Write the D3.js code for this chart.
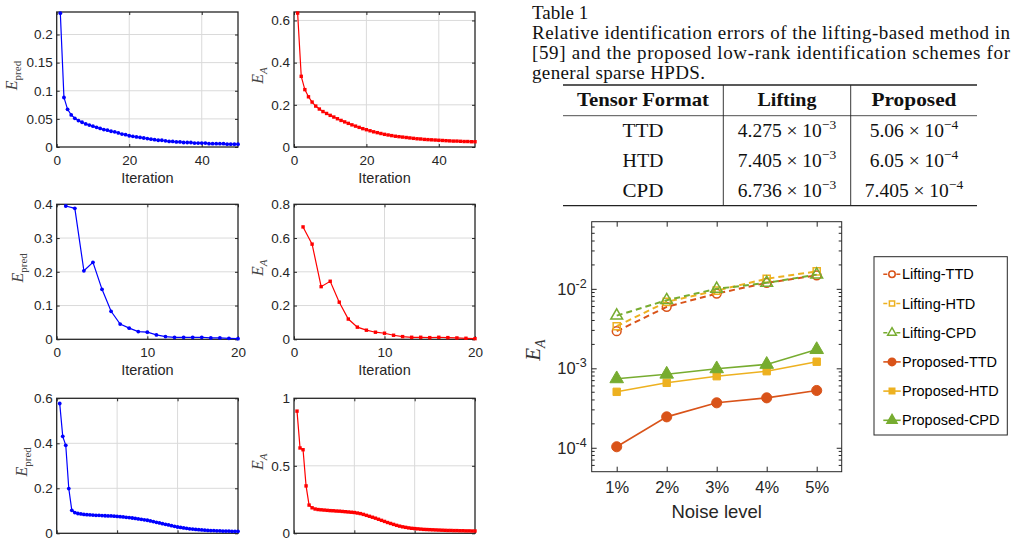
<!DOCTYPE html>
<html>
<head>
<meta charset="utf-8">
<script src="https://cdn.jsdelivr.net/npm/d3@7"></script>
<style>
  body { margin: 0; background: #fff; }
  svg text { font-family: "Liberation Sans", Arial, sans-serif; }
  .serif { font-family: "Liberation Serif", "Times New Roman", serif !important; }
</style>
</head>
<body>
<div id="fig"></div>
<script>
// ---------------- data ----------------
// convergence curves (value per iteration, iteration = index + 1)
var predTop = [0.238, 0.088, 0.067, 0.057, 0.051, 0.047, 0.044, 0.041, 0.039, 0.037,
               0.035, 0.033, 0.031, 0.030, 0.028, 0.027, 0.025, 0.023, 0.022, 0.020,
               0.019, 0.018, 0.017, 0.016, 0.015, 0.014, 0.013, 0.012, 0.012, 0.011,
               0.010, 0.010, 0.009, 0.009, 0.008, 0.008, 0.008, 0.007, 0.007, 0.007,
               0.007, 0.006, 0.006, 0.006, 0.006, 0.006, 0.005, 0.005, 0.005, 0.005];
var errTop = [0.635, 0.335, 0.272, 0.238, 0.213, 0.194, 0.180, 0.168, 0.159, 0.150,
              0.142, 0.134, 0.126, 0.119, 0.112, 0.105, 0.099, 0.093, 0.087, 0.082,
              0.077, 0.072, 0.068, 0.064, 0.060, 0.057, 0.054, 0.051, 0.049, 0.047,
              0.045, 0.043, 0.041, 0.039, 0.038, 0.036, 0.035, 0.034, 0.033, 0.032,
              0.031, 0.030, 0.029, 0.028, 0.028, 0.027, 0.026, 0.026, 0.025, 0.025];
var predMid = [0.395, 0.388, 0.203, 0.228, 0.148, 0.083, 0.045, 0.033, 0.023, 0.021,
               0.013, 0.008, 0.006, 0.006, 0.006, 0.006, 0.004, 0.004, 0.003, 0.002];
var errMid = [0.666, 0.564, 0.312, 0.344, 0.220, 0.120, 0.072, 0.054, 0.042, 0.036,
              0.024, 0.016, 0.012, 0.012, 0.010, 0.012, 0.010, 0.008, 0.006, 0.004];
var predBot = [0.577, 0.431, 0.391, 0.199, 0.102, 0.092, 0.088, 0.086, 0.084, 0.083,
               0.082, 0.081, 0.080, 0.080, 0.079, 0.078, 0.077, 0.077, 0.076, 0.075,
               0.074, 0.073, 0.071, 0.070, 0.068, 0.066, 0.064, 0.062, 0.060, 0.058,
               0.055, 0.052, 0.049, 0.046, 0.043, 0.040, 0.037, 0.034, 0.031, 0.028,
               0.026, 0.024, 0.022, 0.020, 0.019, 0.017, 0.016, 0.015, 0.014, 0.013,
               0.012, 0.012, 0.011, 0.011, 0.010, 0.010, 0.010, 0.009, 0.009, 0.009];
var errBot = [0.905, 0.632, 0.619, 0.351, 0.209, 0.189, 0.180, 0.176, 0.174, 0.172,
              0.170, 0.168, 0.167, 0.165, 0.164, 0.162, 0.160, 0.158, 0.156, 0.154,
              0.150, 0.146, 0.140, 0.133, 0.126, 0.119, 0.112, 0.104, 0.096, 0.088,
              0.080, 0.073, 0.066, 0.059, 0.053, 0.048, 0.044, 0.040, 0.037, 0.035,
              0.033, 0.031, 0.029, 0.028, 0.027, 0.026, 0.025, 0.024, 0.023, 0.022,
              0.021, 0.021, 0.020, 0.020, 0.019, 0.019, 0.018, 0.018, 0.017, 0.017];

// noise study
var noiseLevels = [1, 2, 3, 4, 5];
var liftTTD = [2.93e-3, 5.94e-3, 8.73e-3, 1.19e-2, 1.48e-2];
var liftHTD = [3.39e-3, 6.86e-3, 9.50e-3, 1.34e-2, 1.66e-2];
var liftCPD = [4.60e-3, 7.20e-3, 1.00e-2, 1.19e-2, 1.51e-2];
var propTTD = [1.03e-4, 2.45e-4, 3.68e-4, 4.25e-4, 5.26e-4];
var propHTD = [5.06e-4, 6.57e-4, 7.96e-4, 9.20e-4, 1.21e-3];
var propCPD = [7.38e-4, 8.43e-4, 9.86e-4, 1.12e-3, 1.72e-3];

// table
var captionLines = ["Table 1",
  "Relative identification errors of the lifting-based method in",
  "[59] and the proposed low-rank identification schemes for",
  "general sparse HPDS."];
var tableHeader = ["Tensor Format", "Lifting", "Proposed"];
var formats = ["TTD", "HTD", "CPD"];
var liftMant = ["4.275", "7.405", "6.736"];
var liftExp = ["\u22123", "\u22123", "\u22123"];
var propMant = ["5.06", "6.05", "7.405"];
var propExp = ["\u22124", "\u22124", "\u22124"];

// ---------------- svg ----------------
var W = 1016, H = 540;
var svg = d3.select("#fig").append("svg")
    .attr("width", W).attr("height", H);

var ink = "#262626";

// small convergence panels (bottom row: x labels fall below the picture)
var panels = [
  {data: predTop, left: 56.7, right: 238, top: 12, bottom: 147, xMax: 50, xTicks: [0, 20, 40],
   yMax: 0.24, yTicks: [0, 0.05, 0.1, 0.15, 0.2], sub: "pred", labX: 12, color: "#0000ff", mk: "dot", xlab: true},
  {data: errTop, left: 294, right: 475, top: 12, bottom: 147, xMax: 50, xTicks: [0, 20, 40],
   yMax: 0.64, yTicks: [0, 0.2, 0.4, 0.6], sub: "A", labX: 258, color: "#ff0000", mk: "sq", xlab: true},
  {data: predMid, left: 56.7, right: 238, top: 204.3, bottom: 339.3, xMax: 20, xTicks: [0, 10, 20],
   yMax: 0.4, yTicks: [0, 0.1, 0.2, 0.3, 0.4], sub: "pred", labX: 18, color: "#0000ff", mk: "dot", xlab: true},
  {data: errMid, left: 294, right: 475, top: 204.3, bottom: 339.3, xMax: 20, xTicks: [0, 10, 20],
   yMax: 0.8, yTicks: [0, 0.2, 0.4, 0.6, 0.8], sub: "A", labX: 258, color: "#ff0000", mk: "sq", xlab: true},
  {data: predBot, left: 56.7, right: 238, top: 398.3, bottom: 533.3, xMax: 60, xTicks: [0, 20, 40, 60],
   yMax: 0.6, yTicks: [0, 0.2, 0.4, 0.6], sub: "pred", labX: 22, color: "#0000ff", mk: "dot", xlab: false},
  {data: errBot, left: 294, right: 475, top: 398.3, bottom: 533.3, xMax: 60, xTicks: [0, 20, 40, 60],
   yMax: 1, yTicks: [0, 0.5, 1], sub: "A", labX: 258, color: "#ff0000", mk: "sq", xlab: false}
];

var fmt = function(d){ return String(+d.toFixed(3)); };

panels.forEach(function(p){
  var x = d3.scaleLinear().domain([0, p.xMax]).range([p.left, p.right]);
  var y = d3.scaleLinear().domain([0, p.yMax]).range([p.bottom, p.top]);
  var g = svg.append("g");

  // grid
  g.selectAll(".gx").data(p.xTicks.filter(function(d){ return d > 0 && d < p.xMax; }))
    .enter().append("line")
      .attr("x1", function(d){ return x(d); }).attr("x2", function(d){ return x(d); })
      .attr("y1", p.top).attr("y2", p.bottom)
      .attr("stroke", "#dadada").attr("stroke-width", 1);
  g.selectAll(".gy").data(p.yTicks.filter(function(d){ return d > 0 && d < p.yMax; }))
    .enter().append("line")
      .attr("x1", p.left).attr("x2", p.right)
      .attr("y1", function(d){ return y(d); }).attr("y2", function(d){ return y(d); })
      .attr("stroke", "#dadada").attr("stroke-width", 1);

  // axes (ticks inward, MATLAB style)
  var ax = g.append("g").attr("transform", "translate(0," + p.bottom + ")")
    .call(d3.axisBottom(x).tickValues(p.xTicks).tickFormat(p.xlab ? fmt : "").tickSize(-3).tickPadding(8));
  var ay = g.append("g").attr("transform", "translate(" + p.left + ",0)")
    .call(d3.axisLeft(y).tickValues(p.yTicks).tickFormat(fmt).tickSize(-3).tickPadding(4));
  var at = g.append("g").attr("transform", "translate(0," + p.top + ")")
    .call(d3.axisTop(x).tickValues(p.xTicks).tickFormat("").tickSize(-3));
  var ar = g.append("g").attr("transform", "translate(" + p.right + ",0)")
    .call(d3.axisRight(y).tickValues(p.yTicks).tickFormat("").tickSize(-3));
  [ax, ay, at, ar].forEach(function(a){
    a.select(".domain").remove();
    a.selectAll("line").attr("stroke", ink);
    a.selectAll("text").attr("fill", ink).style("font-size", "13.5px");
  });

  g.append("rect")
    .attr("x", p.left).attr("y", p.top)
    .attr("width", p.right - p.left).attr("height", p.bottom - p.top)
    .attr("fill", "none").attr("stroke", ink).attr("stroke-width", 1.3);

  // curve
  var line = d3.line().x(function(d, i){ return x(i + 1); }).y(function(d){ return y(d); });
  g.append("path").datum(p.data)
    .attr("d", line).attr("fill", "none")
    .attr("stroke", p.color).attr("stroke-width", 1.2);
  if (p.mk === "dot") {
    g.selectAll(".m").data(p.data).enter().append("circle")
      .attr("cx", function(d, i){ return x(i + 1); })
      .attr("cy", function(d){ return y(d); })
      .attr("r", 1.9).attr("fill", p.color);
  } else {
    g.selectAll(".m").data(p.data).enter().append("rect")
      .attr("x", function(d, i){ return x(i + 1) - 1.7; })
      .attr("y", function(d){ return y(d) - 1.7; })
      .attr("width", 3.4).attr("height", 3.4).attr("fill", p.color);
  }

  // labels
  if (p.xlab) {
    g.append("text")
      .attr("x", (p.left + p.right) / 2).attr("y", p.bottom + 36)
      .attr("text-anchor", "middle").attr("fill", ink)
      .style("font-size", "14.5px").text("Iteration");
  }

  var yl = g.append("text").attr("class", "serif")
    .attr("transform", "translate(" + (p.labX + 5) + "," + ((p.top + p.bottom) / 2 - 4) + ") rotate(-90)")
    .attr("text-anchor", "middle").attr("fill", "#444");
  yl.append("tspan").style("font-size", "16px").style("font-style", "italic").text("E");
  yl.append("tspan").attr("dy", 4)
    .style("font-size", "11px")
    .style("font-style", p.sub === "A" ? "italic" : "normal")
    .text(p.sub);
});

// ---------------- table ----------------
var tb = svg.append("g");
tb.selectAll(".cap").data(captionLines).enter().append("text")
  .attr("class", "serif")
  .attr("x", 532)
  .attr("y", function(d, i){ return 19 + i * 20; })
  .attr("textLength", function(d, i){ return i === 0 ? null : (i === 3 ? 173 : 478); })
  .attr("lengthAdjust", "spacing")
  .attr("fill", "#111")
  .style("font-size", "19px")
  .text(function(d){ return d; });

var colX = [643, 787, 914];
var ruleL = 563, ruleR = 977;
tb.append("line").attr("x1", ruleL).attr("x2", ruleR).attr("y1", 85).attr("y2", 85)
  .attr("stroke", "#222").attr("stroke-width", 1.3);
tb.append("line").attr("x1", ruleL).attr("x2", ruleR).attr("y1", 115.7).attr("y2", 115.7)
  .attr("stroke", "#222").attr("stroke-width", 0.8);
tb.append("line").attr("x1", ruleL).attr("x2", ruleR).attr("y1", 205.7).attr("y2", 205.7)
  .attr("stroke", "#222").attr("stroke-width", 1.3);
[723.3, 850.7].forEach(function(vx){
  tb.append("line").attr("x1", vx).attr("x2", vx).attr("y1", 85).attr("y2", 205.7)
    .attr("stroke", "#222").attr("stroke-width", 0.9);
});

var headW = [132, 59, 85];
tb.selectAll(".hd").data(tableHeader).enter().append("text")
  .attr("class", "serif")
  .attr("x", function(d, i){ return colX[i] - headW[i] / 2; }).attr("y", 106)
  .attr("textLength", function(d, i){ return headW[i]; })
  .attr("lengthAdjust", "spacingAndGlyphs")
  .attr("fill", "#111")
  .style("font-size", "19px").style("font-weight", "bold")
  .text(function(d){ return d; });

var rowY = [137.3, 166.7, 196.7];
formats.forEach(function(f, i){
  tb.append("text").attr("class", "serif")
    .attr("x", colX[0] - 20.5).attr("y", rowY[i])
    .attr("textLength", 41).attr("lengthAdjust", "spacingAndGlyphs")
    .attr("fill", "#111").style("font-size", "19px").text(f);
  [[liftMant, liftExp], [propMant, propExp]].forEach(function(c, j){
    var t = tb.append("text").attr("class", "serif")
      .attr("x", colX[j + 1]).attr("y", rowY[i]).attr("text-anchor", "middle")
      .attr("fill", "#111").style("font-size", "19.5px");
    t.append("tspan").text(c[0][i] + " \u00d7 10");
    t.append("tspan").attr("dy", -8).style("font-size", "13.5px").text(c[1][i]);
  });
});

// ---------------- noise-level chart ----------------
var nx = d3.scaleLinear().domain([0.5, 5.5]).range([591.7, 841.7]);
var ny = d3.scaleLog().domain([5e-5, 7e-2]).range([471.7, 221.7]);
var ng = svg.append("g");

var axB = ng.append("g").attr("transform", "translate(0,471.7)")
  .call(d3.axisBottom(nx).tickValues(noiseLevels).tickFormat(function(d){ return d + "%"; })
    .tickSize(-5).tickPadding(10));
var axT = ng.append("g").attr("transform", "translate(0,221.7)")
  .call(d3.axisTop(nx).tickValues(noiseLevels).tickFormat("").tickSize(-5));
var decades = [1e-4, 1e-3, 1e-2];
var axL = ng.append("g").attr("transform", "translate(591.7,0)")
  .call(d3.axisLeft(ny).tickValues(decades).tickFormat("").tickSize(-5).tickPadding(5));
var axR = ng.append("g").attr("transform", "translate(841.7,0)")
  .call(d3.axisRight(ny).tickValues(decades).tickFormat("").tickSize(-5));
[axB, axT, axL, axR].forEach(function(a){
  a.select(".domain").remove();
  a.selectAll("line").attr("stroke", ink);
  a.selectAll("text").attr("fill", ink).style("font-size", "16.5px");
});
// log labels 10^k
axL.selectAll(".tick text").each(function(d){
  var t = d3.select(this).text(null).attr("x", -5).attr("dy", "0.32em");
  t.append("tspan").text("10");
  t.append("tspan").attr("dy", -7).style("font-size", "12.5px")
    .text(String(Math.round(Math.log10(d))));
});
// minor ticks
var minor = [];
[-5, -4, -3, -2].forEach(function(e){
  d3.range(2, 10).forEach(function(k){
    var v = k * Math.pow(10, e);
    if (v > 5e-5 && v < 7e-2) minor.push(v);
  });
});
ng.selectAll(".mnl").data(minor).enter().append("line")
  .attr("x1", 591.7).attr("x2", 594.7)
  .attr("y1", function(d){ return ny(d); }).attr("y2", function(d){ return ny(d); })
  .attr("stroke", ink);
ng.selectAll(".mnr").data(minor).enter().append("line")
  .attr("x1", 841.7).attr("x2", 838.7)
  .attr("y1", function(d){ return ny(d); }).attr("y2", function(d){ return ny(d); })
  .attr("stroke", ink);

ng.append("rect").attr("x", 591.7).attr("y", 221.7).attr("width", 250).attr("height", 250)
  .attr("fill", "none").attr("stroke", ink).attr("stroke-width", 1);

ng.append("text").attr("x", 716.7).attr("y", 517.5).attr("text-anchor", "middle")
  .attr("fill", ink).style("font-size", "18.5px").text("Noise level");
var nyl = ng.append("text").attr("class", "serif")
  .attr("transform", "translate(540,350) rotate(-90)")
  .attr("text-anchor", "middle").attr("fill", "#333");
nyl.append("tspan").style("font-size", "21px").style("font-style", "italic").text("E");
nyl.append("tspan").attr("dy", 5).style("font-size", "14px").style("font-style", "italic").text("A");

var noiseSeries = [
  {name: "Lifting-TTD", values: liftTTD, color: "#D95319", dash: true, shape: d3.symbolCircle, size: 60},
  {name: "Lifting-HTD", values: liftHTD, color: "#EDB120", dash: true, shape: d3.symbolSquare, size: 50},
  {name: "Lifting-CPD", values: liftCPD, color: "#77AC30", dash: true, shape: d3.symbolTriangle, size: 60},
  {name: "Proposed-TTD", values: propTTD, color: "#D95319", dash: false, shape: d3.symbolCircle, size: 80},
  {name: "Proposed-HTD", values: propHTD, color: "#EDB120", dash: false, shape: d3.symbolSquare, size: 55},
  {name: "Proposed-CPD", values: propCPD, color: "#77AC30", dash: false, shape: d3.symbolTriangle, size: 80}
];

var nline = d3.line()
  .x(function(d, i){ return nx(noiseLevels[i]); })
  .y(function(d){ return ny(d); });

noiseSeries.forEach(function(s){
  ng.append("path").datum(s.values).attr("d", nline)
    .attr("fill", "none").attr("stroke", s.color)
    .attr("stroke-width", s.dash ? 2 : 1.6)
    .attr("stroke-dasharray", s.dash ? "6,4" : null);
  ng.selectAll(null).data(s.values).enter().append("path")
    .attr("transform", function(d, i){ return "translate(" + nx(noiseLevels[i]) + "," + ny(d) + ")"; })
    .attr("d", d3.symbol().type(s.shape).size(s.size))
    .attr("fill", s.dash ? "none" : s.color)
    .attr("stroke", s.color).attr("stroke-width", s.dash ? 1.5 : 1);
});

// legend
var lg = svg.append("g");
lg.append("rect").attr("x", 874).attr("y", 256.7).attr("width", 133.3).attr("height", 178.3)
  .attr("fill", "#fff").attr("stroke", "#262626").attr("stroke-width", 1);
noiseSeries.forEach(function(s, i){
  var yy = 274.3 + i * 29.2;
  lg.append("line").attr("x1", 883.3).attr("x2", 900.7).attr("y1", yy).attr("y2", yy)
    .attr("stroke", s.color).attr("stroke-width", 1.6)
    .attr("stroke-dasharray", s.dash ? "4,2.5" : null);
  lg.append("path").attr("transform", "translate(892," + yy + ")")
    .attr("d", d3.symbol().type(s.shape).size(s.size * 0.55))
    .attr("fill", s.dash ? "#fff" : s.color)
    .attr("stroke", s.color).attr("stroke-width", 1.5);
  lg.append("text").attr("x", 902).attr("y", yy + 5)
    .attr("fill", "#000").style("font-size", "14.5px").text(s.name);
});
</script>
</body>
</html>
